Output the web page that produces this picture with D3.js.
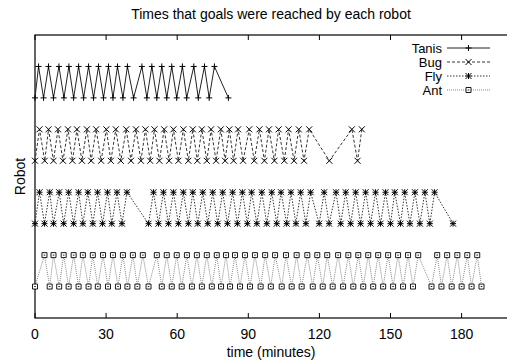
<!DOCTYPE html>
<html>
<head>
<meta charset="utf-8">
<script src="https://cdn.jsdelivr.net/npm/d3@7"></script>
<style>
  body { margin: 0; background: #fff; }
  text { font-family: "Liberation Sans", Arial, sans-serif; fill: #000; }
</style>
</head>
<body>
<svg width="507" height="364"></svg>
<script>
// goal times in minutes, each robot toggles between its low and high row
var robots = ['Tanis', 'Bug', 'Fly', 'Ant'];
var tanisTimes = [0, 1.5, 3.6, 5.7, 7.8, 10.1, 12.2, 14.3, 16.3, 18.4, 20.5, 22.6, 24.7, 26.8, 28.9, 31.0,
  32.9, 34.8, 37.1, 39.0, 41.6, 45.1, 47.2, 49.3, 51.4, 53.5, 55.6, 57.7, 59.8, 62.2, 64.0, 67.0,
  68.9, 71.5, 73.5, 75.7, 81.6];
var bugTimes = [0, 1.9, 4.1, 5.7, 7.8, 9.7, 11.8, 13.9, 15.8, 17.7, 19.8, 21.9, 23.7, 25.8, 27.9, 30.1,
  32.0, 34.1, 36.2, 38.5, 40.5, 42.6, 44.7, 46.6, 48.6, 50.4, 52.5, 54.5, 56.6, 58.4, 60.5, 62.6,
  64.7, 66.6, 68.5, 70.4, 72.5, 74.3, 76.4, 78.4, 80.2, 82.0, 83.8, 85.7, 87.8, 90.4, 92.5, 94.7,
  96.8, 98.7, 101.0, 102.8, 105.2, 107.0, 109.3, 111.3, 113.5, 115.7, 124.2, 133.7, 136.1, 137.9];
var flyTimes = [0, 1.9, 4.0, 6.2, 7.8, 10.2, 12.1, 14.2, 16.3, 18.4, 20.2, 22.3, 24.4, 26.4, 28.5, 30.6,
  32.4, 34.6, 36.7, 38.8, 47.9, 50.0, 52.1, 54.2, 56.3, 58.4, 60.5, 62.6, 64.7, 66.6, 68.7, 70.8,
  72.9, 75.0, 77.1, 79.2, 81.2, 83.4, 85.4, 87.5, 89.6, 91.4, 93.6, 95.7, 97.8, 99.9, 102.0, 103.8,
  106.2, 108.0, 110.1, 112.1, 114.3, 116.3, 119.9, 122.0, 124.1, 127.0, 129.0, 131.1, 133.2, 135.3,
  137.4, 139.5, 141.6, 143.7, 145.8, 147.9, 150.0, 151.8, 154.2, 156.0, 158.2, 160.3, 162.4, 164.5,
  166.6, 168.6, 176.4];
var antTimes = [0, 4.0, 6.2, 7.8, 10.2, 12.1, 14.2, 16.3, 18.4, 20.2, 22.6, 24.4, 26.5, 28.7, 30.8, 32.9,
  35.0, 37.1, 39.0, 41.3, 43.2, 45.5, 47.9, 51.4, 53.5, 55.6, 57.7, 59.8, 61.9, 64.1, 66.2, 68.3,
  70.4, 72.5, 74.6, 76.7, 78.5, 80.6, 82.3, 84.4, 86.5, 88.6, 90.7, 92.8, 95.2, 97.1, 99.5, 101.3,
  104.1, 105.9, 108.3, 110.4, 112.5, 114.9, 117.2, 119.1, 121.4, 123.3, 125.6, 127.9, 130.0, 132.2,
  134.3, 136.4, 138.5, 140.6, 142.7, 144.8, 146.9, 149.0, 151.1, 153.2, 155.3, 157.4, 159.5, 161.7,
  167.3, 169.7, 171.5, 173.9, 175.8, 178.2, 180.0, 182.4, 184.2, 186.6, 188.4];
var robotLow = [7, 5, 3, 1];   // row value for the "low" state, high is +1
var xTicks = [0, 30, 60, 90, 120, 150, 180];

var allTimes = [tanisTimes, bugTimes, flyTimes, antTimes];

var svg = d3.select('svg');
var margin = { left: 35, top: 35, bottom: 46 };
var W = 507, H = 364;
var fs = 14;

var x = d3.scaleLinear().domain([0, 200]).range([margin.left, 509]);
var y = d3.scaleLinear().domain([0, 9]).range([H - margin.bottom, margin.top]);

// line and point styles for each robot
var styles = [
  { dash: null, color: '#222', marker: 'plus' },
  { dash: '3,2', color: '#333', marker: 'cross' },
  { dash: '1.5,1.5', color: '#333', marker: 'star' },
  { dash: '1,1', color: '#888', marker: 'box' }
];

function markerPath(kind, r) {
  var p = d3.path();
  if (kind === 'plus' || kind === 'star') {
    p.moveTo(-r, 0); p.lineTo(r, 0);
    p.moveTo(0, -r); p.lineTo(0, r);
  }
  if (kind === 'cross' || kind === 'star') {
    p.moveTo(-r, -r); p.lineTo(r, r);
    p.moveTo(-r, r); p.lineTo(r, -r);
  }
  if (kind === 'box') {
    p.rect(-r, -r, 2 * r, 2 * r);
    p.moveTo(-0.8, 0); p.lineTo(0.8, 0);
  }
  return p.toString();
}

// frame (right side runs past the window edge)
svg.append('rect')
  .attr('x', x(0)).attr('y', y(9))
  .attr('width', x(200) - x(0)).attr('height', y(0) - y(9))
  .attr('fill', 'none').attr('stroke', '#000').attr('stroke-width', 1.2);

// x ticks, inward on top and bottom
var tickG = svg.append('g');
xTicks.forEach(function (t) {
  tickG.append('line').attr('x1', x(t)).attr('x2', x(t)).attr('y1', y(0)).attr('y2', y(0) - 5)
    .attr('stroke', '#000');
  tickG.append('line').attr('x1', x(t)).attr('x2', x(t)).attr('y1', y(9)).attr('y2', y(9) + 5)
    .attr('stroke', '#000');
  tickG.append('text').attr('x', x(t)).attr('y', y(0) + 21)
    .attr('text-anchor', 'middle').attr('font-size', fs).text(t);
});

svg.append('text').attr('x', 271).attr('y', 19).attr('text-anchor', 'middle')
  .attr('font-size', fs).text('Times that goals were reached by each robot');
svg.append('text').attr('x', 271).attr('y', 357).attr('text-anchor', 'middle')
  .attr('font-size', fs).text('time (minutes)');
svg.append('text').attr('transform', 'translate(25,' + (y(4.5)) + ') rotate(-90)')
  .attr('text-anchor', 'middle').attr('font-size', fs).text('Robot');

var line = d3.line().x(function (d) { return x(d.t); }).y(function (d) { return y(d.v); });

allTimes.forEach(function (times, i) {
  var pts = times.map(function (t, k) { return { t: t, v: robotLow[i] + (k % 2) }; });
  var st = styles[i];
  var g = svg.append('g');
  g.append('path').datum(pts).attr('d', line).attr('fill', 'none')
    .attr('stroke', st.color).attr('stroke-width', 1)
    .attr('stroke-dasharray', st.dash);
  g.selectAll('path.m').data(pts).enter().append('path').attr('class', 'm')
    .attr('transform', function (d) { return 'translate(' + x(d.t) + ',' + y(d.v) + ')'; })
    .attr('d', markerPath(st.marker, st.marker === 'box' ? 2.5 : 3))
    .attr('fill', st.marker === 'box' ? '#fff' : 'none')
    .attr('stroke', '#000').attr('stroke-width', st.marker === 'box' ? 0.9 : 1);

  // legend row
  var ly = 48 + i * 14;
  svg.append('text').attr('x', 442).attr('y', ly + 4.5).attr('text-anchor', 'end')
    .attr('font-size', 13).text(robots[i]);
  svg.append('line').attr('x1', 447).attr('x2', 490).attr('y1', ly).attr('y2', ly)
    .attr('stroke', st.color).attr('stroke-width', 1).attr('stroke-dasharray', st.dash);
  svg.append('path').attr('transform', 'translate(468.5,' + ly + ')')
    .attr('d', markerPath(st.marker, st.marker === 'box' ? 2.5 : 3))
    .attr('fill', st.marker === 'box' ? '#fff' : 'none')
    .attr('stroke', '#000').attr('stroke-width', st.marker === 'box' ? 0.9 : 1);
});
</script>
</body>
</html>
